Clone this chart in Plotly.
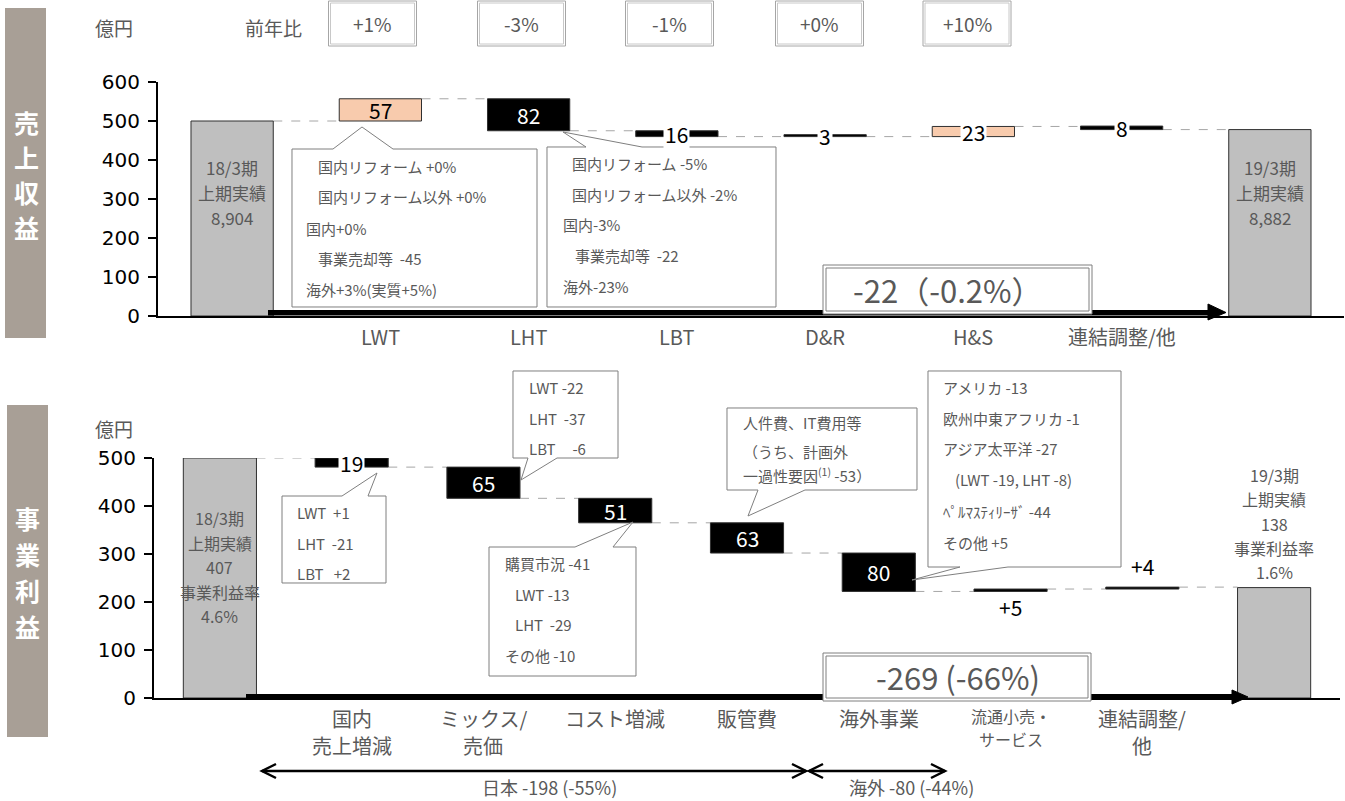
import plotly.graph_objects as go

# ---------------- data : 売上収益 (revenue) ----------------
rev_tick_labels = ["", "LWT", "LHT", "LBT", "D&R", "H&S", "連結調整/他", ""]
rev_low = [0, 500, 475, 460, 460, 460, 478, 0]
rev_high = [500, 557, 557, 475, 465, 486, 487, 478]
rev_kind = ["total", "up", "down", "down", "down", "up", "down", "total"]
rev_value_labels = ["", "57", "82", "16", "3", "23", "8", ""]
rev_yoy = ["+1%", "-3%", "-1%", "+0%", "+10%"]
rev_start_text = ["18/3期", "上期実績", "8,904"]
rev_end_text = ["19/3期", "上期実績", "8,882"]
rev_total_text = "-22（-0.2%）"
rev_lwt_note = ["国内リフォーム +0%", "国内リフォーム以外 +0%", "国内+0%", "事業売却等  -45", "海外+3%(実質+5%)"]
rev_lht_note = ["国内リフォーム -5%", "国内リフォーム以外 -2%", "国内-3%", "事業売却等  -22", "海外-23%"]

# ---------------- data : 事業利益 (operating profit) ----------------
op_tick_labels = ["", "国内<br>売上増減", "ミックス/<br>売価", "コスト増減", "販管費", "海外事業",
                  "流通小売・<br>サービス", "連結調整/<br>他", ""]
op_low = [0, 481, 416, 365, 302, 222, 222, 227, 0]
op_high = [500, 500, 481, 416, 365, 302, 227, 231, 230]
op_kind = ["total", "down", "down", "down", "down", "down", "up", "up", "total"]
op_value_labels = ["", "19", "65", "51", "63", "80", "+5", "+4", ""]
op_start_text = ["18/3期", "上期実績", "407", "事業利益率", "4.6%"]
op_end_text = ["19/3期", "上期実績", "138", "事業利益率", "1.6%"]
op_total_text = "-269 (-66%)"
op_domestic_note = ["LWT  +1", "LHT  -21", "LBT   +2"]
op_mix_note = ["LWT -22", "LHT  -37", "LBT     -6"]
op_cost_note = ["購買市況 -41", "LWT -13", "LHT  -29", "その他 -10"]
op_sga_note = ["人件費、IT費用等", "（うち、計画外", "一過性要因<sup>(1)</sup> -53）"]
op_overseas_note = ["アメリカ -13", "欧州中東アフリカ -1", "アジア太平洋 -27", "(LWT -19, LHT -8)",
                    "ﾍﾟﾙﾏｽﾃｨﾘｰｻﾞ -44", "その他 +5"]
op_japan_text = "日本 -198 (-55%)"
op_overseas_text = "海外 -80 (-44%)"

# ---------------- style ----------------
W, H = 1345, 801
JP = "Noto Sans CJK JP"
NUM = "DejaVu Sans"
GRAY_TXT = "#595959"
BAND = "#A89F96"
BAR_W = 0.555


def px(x):
    return x / W


def py(y):
    return 1 - y / H


fig = go.Figure()
shapes = []
ann = []


def text(x, y, t, size=15, color=GRAY_TXT, xanchor="left", family=JP, **kw):
    ann.append(dict(x=px(x), y=py(y), xref="paper", yref="paper", text=t, showarrow=False,
                    xanchor=xanchor, yanchor="middle", font=dict(size=size, color=color, family=family), **kw))


def rect(x0, y0, x1, y1, line="#7F7F7F", fill=None, width=1):
    shapes.append(dict(type="rect", xref="paper", yref="paper", x0=px(x0), y0=py(y0), x1=px(x1), y1=py(y1),
                       line=dict(color=line, width=width), fillcolor=fill, layer="above"))


def path(points, close=True, line="#7F7F7F", fill=None, width=1):
    d = "M " + " L ".join(f"{px(a):.5f},{py(b):.5f}" for a, b in points)
    if close:
        d += " Z"
    shapes.append(dict(type="path", xref="paper", yref="paper", path=d,
                       line=dict(color=line, width=width), fillcolor=fill, layer="above"))


def waterfall(low, high, kind, xa, ya, up_color):
    n = len(low)
    colors = ["#BFBFBF" if k == "total" else (up_color if k == "up" else "#000000") for k in kind]
    fig.add_trace(go.Bar(x=list(range(n)), y=[h - l for l, h in zip(low, high)], base=low,
                         width=BAR_W, marker=dict(color=colors, line=dict(color="#303030", width=1)),
                         xaxis=xa, yaxis=ya, showlegend=False, hoverinfo="skip"))
    for i in range(n - 1):
        lvl = low[i] if kind[i] == "down" else high[i]
        shapes.append(dict(type="line", xref=xa, yref=ya, x0=i + BAR_W / 2, x1=i + 1 - BAR_W / 2,
                           y0=lvl, y1=lvl, line=dict(color="#A6A6A6", width=1, dash="dash"), layer="below"))


waterfall(rev_low, rev_high, rev_kind, "x", "y", "#F8CBAD")
waterfall(op_low, op_high, op_kind, "x2", "y2", "#000000")


# ---------- value labels ----------
def value_labels(labels, low, high, kind, xa, ya, px_per_unit, special):
    for i, lab in enumerate(labels):
        if not lab:
            continue
        mid = (low[i] + high[i]) / 2
        d = dict(x=i, y=mid, xref=xa, yref=ya, text=lab, showarrow=False, yanchor="middle",
                 font=dict(size=21, family=JP, color="#000000"))
        if i in special:
            d["yshift"] = special[i]
        elif (high[i] - low[i]) * px_per_unit < 14:
            d["bgcolor"] = "#FFFFFF"
            d["borderpad"] = 1
        elif kind[i] == "down":
            d["font"]["color"] = "#FFFFFF"
        ann.append(d)


value_labels(rev_value_labels, rev_low, rev_high, rev_kind, "x", "y", 0.389, {})
value_labels(op_value_labels, op_low, op_high, op_kind, "x2", "y2", 0.479, {6: -17, 7: 22})


# ---------- category labels (placed on the category scale) ----------
def cat_labels(labels, xa, y_first, spacing, small=()):
    for i, lab in enumerate(labels):
        for j, line in enumerate(lab.split("<br>")):
            if not line:
                continue
            sz = 16 if i in small else 20
            sp = 23 if i in small else spacing
            ann.append(dict(x=i, y=py(y_first + sp * j - (2 if i in small else 0)), xref=xa, yref="paper",
                            text=line, showarrow=False, yanchor="middle",
                            font=dict(size=sz, family=JP, color=GRAY_TXT)))


cat_labels(rev_tick_labels, "x", 337, 27)
cat_labels(op_tick_labels, "x2", 718, 27, small=(6,))


# ---------- start / end bar texts ----------
def bar_text(lines, idx, xa, y_first, spacing, size):
    for i, t in enumerate(lines):
        ann.append(dict(x=idx, y=py(y_first + spacing * i), xref=xa, yref="paper", text=t, showarrow=False,
                        yanchor="middle", borderpad=0, font=dict(size=size, family=JP, color=GRAY_TXT)))


bar_text(rev_start_text, 0, "x", 167, 25, 17)
bar_text(rev_end_text, 7, "x", 167, 25, 17)
bar_text(op_start_text, 0, "x2", 518, 24.5, 16)
bar_text(op_end_text, 8, "x2", 475, 24.3, 16)

# ---------- left bands ----------
rect(5, 8, 46, 338, line=BAND, fill=BAND, width=0)
for i, ch in enumerate("売上収益"):
    text(26, 122 + 35 * i, f"<b>{ch}</b>", size=25, color="#FFFFFF", xanchor="center")
rect(7, 405, 48, 737, line=BAND, fill=BAND, width=0)
for i, ch in enumerate("事業利益"):
    text(28, 518 + 36 * i, f"<b>{ch}</b>", size=25, color="#FFFFFF", xanchor="center")

# ---------- header texts ----------
text(114, 28, "億円", size=19, xanchor="center")
text(273, 28, "前年比", size=19, xanchor="center")
text(114, 428, "億円", size=19, xanchor="center")
for cx, t in zip([372.5, 521.5, 669.5, 819.5, 967], rev_yoy):
    rect(cx - 44, 1, cx + 44, 46, line="#A6A6A6", fill="#FFFFFF")
    rect(cx - 42, 3, cx + 42, 44, line="#C8C8C8")
    text(cx, 24, t, size=19, xanchor="center")

# ---------- thick arrows ----------
rect(268, 310, 1210, 315.5, line="#000000", fill="#000000", width=0)
path([(1208, 304), (1226, 312.5), (1208, 320)], line="#000000", fill="#000000")
rect(246, 694, 1232, 700, line="#000000", fill="#000000", width=0)
path([(1232, 690), (1248, 697), (1232, 704)], line="#000000", fill="#000000")

# ---------- total boxes ----------
rect(823, 265, 1092, 314, line="#7F7F7F", fill="#FFFFFF")
rect(826, 268, 1089, 311, line="#7F7F7F")
text(948, 289, rev_total_text, size=31, xanchor="center")
rect(823, 653, 1091, 701, line="#7F7F7F", fill="#FFFFFF")
rect(826, 656, 1088, 698, line="#7F7F7F")
text(958, 676, op_total_text, size=31, xanchor="center")


# ---------- callouts ----------
def callout_top(x0, y0, x1, y1, n1, tip, n2):
    path([(x0, y0), (n1, y0), tip, (n2, y0), (x1, y0), (x1, y1), (x0, y1)], fill="#FFFFFF")


def callout_bottom(x0, y0, x1, y1, n1, tip, n2):
    path([(x0, y0), (x1, y0), (x1, y1), (n2, y1), tip, (n1, y1), (x0, y1)], fill="#FFFFFF")


callout_top(292, 149, 537, 307, 333, (362, 127), 393)
for t, x, y in zip(rev_lwt_note, [316, 316, 304, 316, 304], [166, 197, 228, 258, 289]):
    text(x, y, t)
callout_top(547, 147, 776, 307, 586, (563, 132), 642)
for t, x, y in zip(rev_lht_note, [570, 570, 561, 573, 561], [163, 194, 224, 255, 286]):
    text(x, y, t)

callout_top(282, 496, 386, 583, 342, (377, 473), 368)
for t, y in zip(op_domestic_note, [512, 543, 573]):
    text(295, y, t)
callout_bottom(513, 371, 618, 458, 528, (521, 480), 557)
for t, y in zip(op_mix_note, [387, 418, 448]):
    text(527, y, t)
callout_top(489, 547, 636, 676, 575, (633, 522), 613)
for t, x, y in zip(op_cost_note, [503, 513, 513, 503], [563, 594, 624, 655]):
    text(x, y, t)
callout_bottom(727, 408, 917, 490, 758, (748, 516), 805)
for t, y in zip(op_sga_note, [423, 451, 475]):
    text(741, y, t)
callout_bottom(928, 371, 1121, 567, 960, (912, 580), 1008)
for t, x, y in zip(op_overseas_note, [941, 941, 941, 953, 941, 941], [387, 418, 448, 479, 511, 542]):
    text(x, y, t)

# ---------- region arrows ----------
path([(262, 771), (806, 771)], close=False, line="#000000", width=2.5)
path([(276, 764), (262, 771), (276, 778)], close=False, line="#000000", width=2.5)
path([(792, 764), (806, 771), (792, 778)], close=False, line="#000000", width=2.5)
path([(809, 771), (945, 771)], close=False, line="#000000", width=2.5)
path([(823, 764), (809, 771), (823, 778)], close=False, line="#000000", width=2.5)
path([(931, 764), (945, 771), (931, 778)], close=False, line="#000000", width=2.5)
text(549, 787, op_japan_text, size=18, xanchor="center", borderpad=0)
text(911, 787, op_overseas_text, size=18, xanchor="center", borderpad=0)

xcommon = dict(showline=True, linecolor="#000000", linewidth=1.5, ticks="", showgrid=False,
               zeroline=False, showticklabels=False, automargin=False)
ycommon = dict(showline=True, linecolor="#000000", linewidth=2, ticks="outside", ticklen=8,
               tickwidth=1.5, tickcolor="#000000", showgrid=False, zeroline=False, automargin=False,
               tickfont=dict(size=20, family=NUM, color="#000000"), dtick=100, ticklabelstandoff=4)

fig.update_layout(
    width=W, height=H, margin=dict(l=0, r=0, t=0, b=0),
    paper_bgcolor="#FFFFFF", plot_bgcolor="#FFFFFF", barmode="overlay",
    xaxis=dict(xcommon, domain=[px(158), px(1344)], range=[-0.5, 7.5], anchor="y"),
    yaxis=dict(ycommon, domain=[py(316), py(82)], range=[0, 600], anchor="x"),
    xaxis2=dict(xcommon, domain=[px(154), px(1340)], range=[-0.5, 8.5], anchor="y2"),
    yaxis2=dict(ycommon, domain=[py(698), py(458)], range=[0, 500], anchor="x2"),
    shapes=shapes, annotations=ann,
)

fig.write_html("out.html", config={"displayModeBar": False},
               post_script="document.body.style.margin='0px';")
